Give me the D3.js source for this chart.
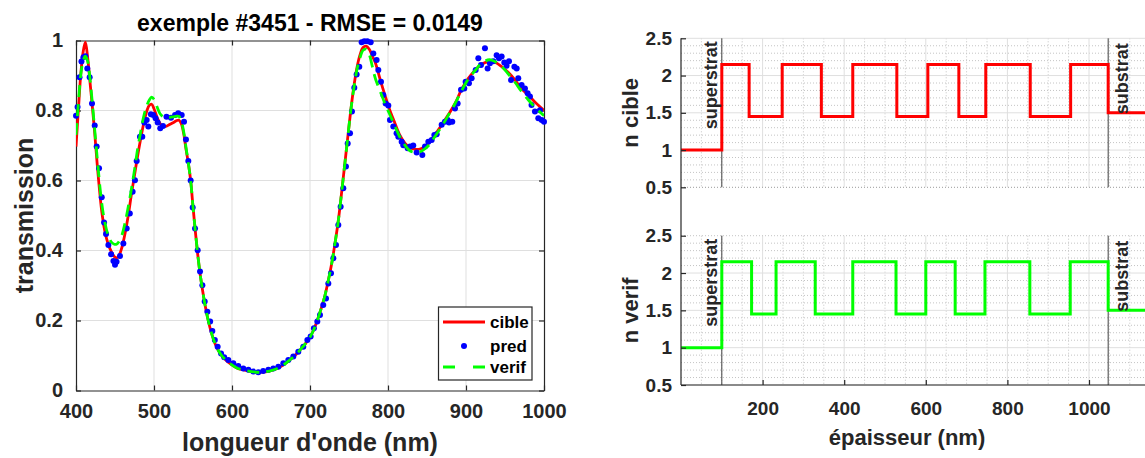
<!DOCTYPE html>
<html><head><meta charset="utf-8">
<script src="https://cdn.jsdelivr.net/npm/d3@7"></script>
<style>
body{margin:0;background:#fff;}
svg{font-family:"Liberation Sans",Arial,sans-serif;font-weight:bold;}
</style></head>
<body>
<svg id="c" width="1145" height="458"></svg>
<script>
// ---------- DATA ----------
const title = "exemple #3451 - RMSE = 0.0149";
const wlTicks = [400,500,600,700,800,900,1000];
const tTicks = [0,0.2,0.4,0.6,0.8,1];
const cibleX = [400,403,406,409,412,415,418,421,424,428,433,437,441,445,449,452,455,459,463,467,471,475,479,483,487,491,494,497,500,504,508,512,516,520,525,529,532,535,538,541,544,547,550,553,556,559,562,565,569,574,580,586,592,598,605,612,620,628,635,642,650,658,666,674,682,690,697,703,709,714,719,724,728,732,736,740,744,748,752,756,760,764,768,772,776,780,784,790,796,802,809,815,822,828,835,841,847,854,860,869,877,886,894,903,912,920,930,937,946,954,963,971,980,988,1000];
const cibleY = [0.697,0.80,0.90,0.965,0.995,0.95,0.88,0.81,0.735,0.625,0.512,0.455,0.42,0.398,0.383,0.379,0.385,0.41,0.45,0.50,0.56,0.615,0.67,0.72,0.765,0.80,0.815,0.818,0.805,0.78,0.762,0.755,0.755,0.76,0.766,0.771,0.772,0.762,0.735,0.69,0.65,0.60,0.525,0.455,0.39,0.335,0.29,0.25,0.205,0.162,0.125,0.102,0.087,0.076,0.066,0.06,0.056,0.053,0.052,0.053,0.057,0.063,0.073,0.087,0.103,0.123,0.142,0.165,0.198,0.232,0.27,0.32,0.365,0.42,0.48,0.555,0.635,0.715,0.795,0.865,0.92,0.958,0.98,0.984,0.975,0.955,0.935,0.888,0.844,0.803,0.763,0.73,0.706,0.694,0.689,0.69,0.697,0.711,0.73,0.759,0.787,0.82,0.859,0.892,0.916,0.932,0.940,0.938,0.925,0.909,0.887,0.863,0.844,0.825,0.80];
const verifY = [0.73,0.82,0.90,0.94,0.955,0.94,0.89,0.82,0.745,0.645,0.535,0.48,0.445,0.425,0.418,0.418,0.425,0.445,0.48,0.525,0.575,0.63,0.69,0.74,0.785,0.815,0.83,0.838,0.832,0.81,0.79,0.782,0.78,0.78,0.782,0.784,0.783,0.77,0.74,0.695,0.65,0.60,0.525,0.455,0.39,0.335,0.29,0.25,0.205,0.162,0.125,0.102,0.087,0.076,0.066,0.06,0.056,0.053,0.052,0.053,0.057,0.063,0.073,0.087,0.103,0.123,0.142,0.165,0.198,0.232,0.27,0.32,0.365,0.42,0.48,0.555,0.635,0.715,0.795,0.86,0.915,0.95,0.972,0.975,0.96,0.925,0.89,0.855,0.82,0.79,0.755,0.725,0.70,0.685,0.68,0.682,0.69,0.705,0.725,0.755,0.785,0.82,0.855,0.89,0.915,0.935,0.945,0.94,0.925,0.905,0.88,0.855,0.83,0.81,0.785];
const predX = [400,402,404.5,407,409.5,412,414.5,417.5,420.5,424,426.5,429.5,433,436,438.5,441.5,445,448,450,452,456.4,460.7,465,469,472.6,475.6,477.8,482,485,487.6,490.6,492.7,496,499,502,504.7,508,511.5,516,521.8,527,531,535.5,538.5,541,544,547,549.6,552.6,556,559,562,565,568.4,572,574.8,578,581.6,586,590,595.3,601.7,608,614.5,621,627.3,633.7,640,646.6,653,659.4,665.8,672.2,678.6,685,691.4,696.6,700.8,705,709.4,712.8,717,720.5,723.5,726.9,729.9,733.3,736.3,739.3,742.7,746.1,748.3,751.3,753.8,756.8,759.8,763.2,766.2,769.6,773.5,777.8,781.2,785.4,787.6,791,794,797,800.4,802.5,806.8,811,813.2,817.5,819.6,825.2,828.2,832.4,836.7,844,847.4,851.7,856,859.4,862.4,868.8,873,876.5,878.2,882.4,885.9,889.3,893.6,897.8,899.5,903.8,907.2,912.4,915.8,919.2,924.3,927.7,930.7,935,939.3,942.3,945.7,949.1,952.1,955.1,957.7,962,965,967,971.3,975.6,979,982,984,988.4,992.7,994.8,997,1000];
const predY = [0.785,0.81,0.895,0.94,0.952,0.955,0.92,0.895,0.82,0.757,0.697,0.635,0.552,0.48,0.447,0.416,0.389,0.37,0.359,0.368,0.384,0.42,0.463,0.506,0.568,0.601,0.656,0.725,0.725,0.766,0.773,0.754,0.789,0.787,0.778,0.766,0.749,0.756,0.782,0.779,0.787,0.792,0.787,0.768,0.717,0.656,0.6,0.523,0.463,0.401,0.34,0.301,0.254,0.225,0.197,0.17,0.144,0.125,0.106,0.095,0.087,0.078,0.07,0.063,0.059,0.054,0.052,0.056,0.059,0.063,0.068,0.078,0.087,0.097,0.111,0.125,0.144,0.154,0.178,0.197,0.216,0.244,0.263,0.306,0.335,0.378,0.416,0.473,0.525,0.578,0.64,0.706,0.735,0.797,0.865,0.903,0.925,0.995,0.998,0.998,0.995,0.963,0.944,0.916,0.882,0.844,0.82,0.814,0.773,0.754,0.735,0.725,0.711,0.701,0.692,0.697,0.7,0.68,0.673,0.697,0.711,0.716,0.73,0.732,0.759,0.768,0.773,0.766,0.768,0.806,0.82,0.859,0.863,0.882,0.878,0.892,0.916,0.949,0.93,0.978,0.92,0.935,0.941,0.958,0.949,0.954,0.937,0.928,0.941,0.887,0.925,0.92,0.892,0.873,0.863,0.849,0.84,0.816,0.797,0.778,0.801,0.773,0.768];
const legendLabels = ["cible","pred","verif"];

const thickTicks = [200,400,600,800,1000];
const nTicks = [0.5,1,1.5,2,2.5];
const cibleEdges = [0,100,167,248,344,421,529,605,681,747,856,955,1047];
const verifEdges = [0,100,173,233,329,421,527,600,672,745,855,954,1047];
const layerN = [1.0,2.15,1.45,2.15,1.45,2.15,1.45,2.15,1.45,2.15,1.45,2.15,1.5];
const superstratPos = 100, substratPos = 1047;

// ---------- DRAW ----------
const svg = d3.select("#c");
const axCol = "#262626", gridCol = "#dfdfdf", minorCol = "#c4c4c4";
const RED = "#ff0000", GREEN = "#00ff00", BLUE = "#0000ff";

// ===== LEFT PLOT =====
const L = {l:76, r:544, t:40.5, b:390.5};
const x = d3.scaleLinear().domain([400,1000]).range([L.l,L.r]);
const y = d3.scaleLinear().domain([0,1]).range([L.b,L.t]);
const gL = svg.append("g");
gL.append("g").selectAll("line").data(wlTicks.slice(1,-1)).join("line")
  .attr("x1",d=>x(d)).attr("x2",d=>x(d)).attr("y1",L.t).attr("y2",L.b)
  .attr("stroke",gridCol).attr("stroke-width",1);
gL.append("g").selectAll("line").data(tTicks.slice(1,-1)).join("line")
  .attr("y1",d=>y(d)).attr("y2",d=>y(d)).attr("x1",L.l).attr("x2",L.r)
  .attr("stroke",gridCol).attr("stroke-width",1);
function styleAxis(g, fs){
  g.select(".domain").attr("stroke",axCol).attr("stroke-width",1.2);
  g.selectAll(".tick line").attr("stroke",axCol).attr("stroke-width",1.2);
  g.selectAll("text").attr("fill",axCol).style("font-size",fs+"px").style("font-weight","bold");
}
const fmtT = d=> d===0?"0":(d===1?"1":d3.format(".1f")(d));
const fmtInt = d3.format("d");
styleAxis(gL.append("g").attr("transform",`translate(0,${L.b})`)
  .call(d3.axisBottom(x).tickValues(wlTicks).tickFormat(fmtInt).tickSize(-5).tickPadding(13).tickSizeOuter(0)),20);
styleAxis(gL.append("g").attr("transform",`translate(${L.l},0)`)
  .call(d3.axisLeft(y).tickValues(tTicks).tickFormat(fmtT).tickSize(-5).tickPadding(13).tickSizeOuter(0)),20);
const axTopL = gL.append("g").attr("transform",`translate(0,${L.t})`)
  .call(d3.axisTop(x).tickValues(wlTicks).tickSize(-5).tickFormat("").tickSizeOuter(0));
styleAxis(axTopL,20);
const axRightL = gL.append("g").attr("transform",`translate(${L.r},0)`)
  .call(d3.axisRight(y).tickValues(tTicks).tickSize(-5).tickFormat("").tickSizeOuter(0));
styleAxis(axRightL,20);

svg.append("clipPath").attr("id","clipL").append("rect")
  .attr("x",L.l).attr("y",L.t-2).attr("width",L.r-L.l).attr("height",L.b-L.t+2);
const lineG = d3.line().x(d=>x(d[0])).y(d=>y(d[1])).curve(d3.curveCatmullRom);
const cibleData = cibleX.map((v,i)=>[v,cibleY[i]]);
const verifData = cibleX.map((v,i)=>[v,verifY[i]]);
const predData = predX.map((v,i)=>[v,predY[i]]);
gL.append("path").datum(cibleData).attr("d",lineG).attr("fill","none")
  .attr("stroke",RED).attr("stroke-width",2.8).attr("clip-path","url(#clipL)");
gL.append("g").selectAll("circle").data(predData).join("circle")
  .attr("cx",d=>x(d[0])).attr("cy",d=>y(d[1])).attr("r",3).attr("fill",BLUE);
gL.append("path").datum(verifData).attr("d",lineG).attr("fill","none")
  .attr("stroke",GREEN).attr("stroke-width",2.8).attr("stroke-dasharray","12,7").attr("clip-path","url(#clipL)");

svg.append("text").attr("x",(L.l+L.r)/2).attr("y",31).attr("text-anchor","middle")
  .style("font-size","23px").attr("fill","#000").text(title);
svg.append("text").attr("x",(L.l+L.r)/2).attr("y",451).attr("text-anchor","middle")
  .style("font-size","25px").attr("fill",axCol).text("longueur d'onde (nm)");
svg.append("text").attr("transform",`translate(33,${(L.t+L.b)/2}) rotate(-90)`).attr("text-anchor","middle")
  .style("font-size","25px").attr("fill",axCol).text("transmission");

const lg = svg.append("g");
lg.append("rect").attr("x",438.5).attr("y",307).attr("width",93.5).attr("height",73)
  .attr("fill","#fff").attr("stroke",axCol).attr("stroke-width",1.2);
const lgY = [322,346,367];
lg.append("line").attr("x1",443).attr("x2",485).attr("y1",lgY[0]).attr("y2",lgY[0]).attr("stroke",RED).attr("stroke-width",2.8);
lg.append("circle").attr("cx",464).attr("cy",lgY[1]).attr("r",3).attr("fill",BLUE);
lg.append("line").attr("x1",443).attr("x2",485).attr("y1",lgY[2]).attr("y2",lgY[2]).attr("stroke",GREEN).attr("stroke-width",2.8).attr("stroke-dasharray","12,18");
lg.selectAll("text.lt").data(legendLabels).join("text").attr("x",490).attr("y",(d,i)=>lgY[i]+6)
  .style("font-size","17px").attr("fill","#000").text(d=>d);

// ===== RIGHT PLOTS =====
const R = {l:681, r:1160};
const xr = d3.scaleLinear().domain([0,1000]).range([681,1089]);
const xMax = xr.invert(1160);
const minorX = d3.range(50, xMax, 50).filter(v=>v%200!==0);
const majorX = d3.range(200, xMax, 200);
const minorY = d3.range(0.6, 2.5, 0.1).filter(v=>Math.abs(v*2-Math.round(v*2))>1e-6);

function panel(yTop, yBot, edges, color, label, showX){
  const yr = d3.scaleLinear().domain([0.5,2.5]).range([yBot,yTop]);
  const g = svg.append("g");
  g.append("g").selectAll("line").data(minorX).join("line")
    .attr("x1",d=>xr(d)).attr("x2",d=>xr(d)).attr("y1",yTop).attr("y2",yBot)
    .attr("stroke",minorCol).attr("stroke-width",1).attr("stroke-dasharray","1,2");
  g.append("g").selectAll("line").data(minorY).join("line")
    .attr("y1",d=>yr(d)).attr("y2",d=>yr(d)).attr("x1",R.l).attr("x2",R.r)
    .attr("stroke",minorCol).attr("stroke-width",1).attr("stroke-dasharray","1,2");
  g.append("g").selectAll("line").data(majorX).join("line")
    .attr("x1",d=>xr(d)).attr("x2",d=>xr(d)).attr("y1",yTop).attr("y2",yBot)
    .attr("stroke",gridCol).attr("stroke-width",1);
  g.append("g").selectAll("line").data(nTicks).join("line")
    .attr("y1",d=>yr(d)).attr("y2",d=>yr(d)).attr("x1",R.l).attr("x2",R.r)
    .attr("stroke-width",1)
    .attr("stroke-dasharray",d=>(d===0.5&&!showX)||(d===2.5&&showX)?"1,2":null)
    .attr("stroke",d=>(d===0.5&&!showX)?"#9a9a9a":((d===2.5&&showX)?minorCol:gridCol));
  g.selectAll("line.bd").data([superstratPos, substratPos]).join("line")
    .attr("x1",d=>xr(d)).attr("x2",d=>xr(d)).attr("y1",yTop).attr("y2",yBot)
    .attr("stroke","#404040").attr("stroke-width",1);
  const pts = edges.map((e,i)=>[e,layerN[i]]).concat([[xMax,layerN[layerN.length-1]]]);
  g.append("path").datum(pts)
    .attr("d",d3.line().x(d=>xr(d[0])).y(d=>yr(d[1])).curve(d3.curveStepAfter))
    .attr("fill","none").attr("stroke",color).attr("stroke-width",3);
  const ya = g.append("g").attr("transform",`translate(${R.l},0)`)
    .call(d3.axisLeft(yr).tickValues(nTicks).tickFormat(d=>d3.format("")(d)).tickSize(-5).tickPadding(9).tickSizeOuter(0));
  ya.select(".domain").remove();
  styleAxis(ya,19);
  if(showX){
    const xa = g.append("g").attr("transform",`translate(0,${yBot})`)
      .call(d3.axisBottom(xr).tickValues(thickTicks).tickFormat(fmtInt).tickSize(-5).tickPadding(17).tickSizeOuter(0));
    xa.select(".domain").attr("d",`M${R.l},0H${R.r}`);
    styleAxis(xa,19);
  }
  g.append("text").attr("transform",`translate(${xr(superstratPos)-5},${yTop+3}) rotate(-90)`)
    .attr("text-anchor","end").style("font-size","18px").attr("fill",axCol).text("superstrat");
  g.append("text").attr("transform",`translate(${xr(substratPos)+20},${yTop+5}) rotate(-90)`)
    .attr("text-anchor","end").style("font-size","18px").attr("fill",axCol).text("substrat");
  svg.append("text").attr("transform",`translate(638,${(yTop+yBot)/2}) rotate(-90)`).attr("text-anchor","middle")
    .style("font-size","22px").attr("fill",axCol).text(label);
}
panel(38.3, 187.3, cibleEdges, RED, "n cible", false);
panel(235.7, 385, verifEdges, GREEN, "n verif", true);
svg.append("line").attr("x1",R.l).attr("x2",R.l).attr("y1",38.3).attr("y2",385)
  .attr("stroke",axCol).attr("stroke-width",1.2);
svg.append("text").attr("x",907).attr("y",445).attr("text-anchor","middle")
  .style("font-size","22px").attr("fill",axCol).text("épaisseur (nm)");
</script>
</body></html>
